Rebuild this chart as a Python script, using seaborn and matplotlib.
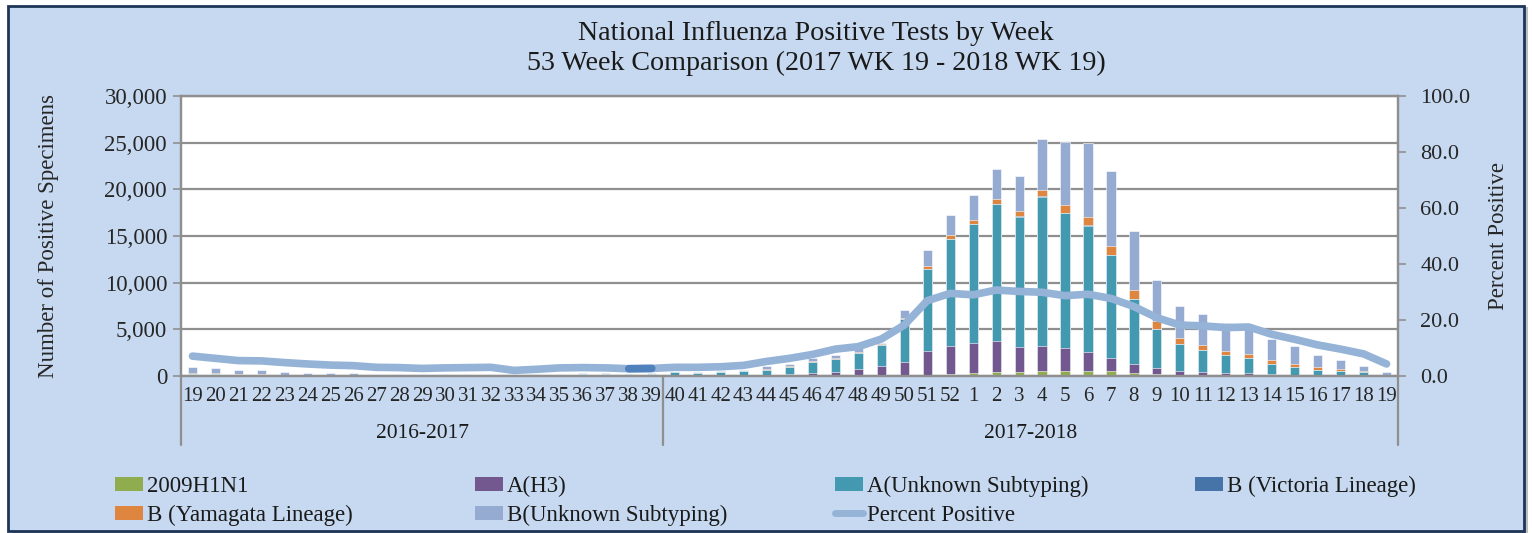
import numpy as np
import pandas as pd
import matplotlib
matplotlib.use("Agg")
import matplotlib.pyplot as plt
import matplotlib.transforms as mtransforms
from matplotlib.patches import Rectangle, Patch
from matplotlib.lines import Line2D
import seaborn as sns

# ---------------- data ----------------
weeks = [19, 20, 21, 22, 23, 24, 25, 26, 27, 28, 29, 30, 31, 32, 33, 34, 35, 36, 37, 38, 39,
         40, 41, 42, 43, 44, 45, 46, 47, 48, 49, 50, 51, 52,
         1, 2, 3, 4, 5, 6, 7, 8, 9, 10, 11, 12, 13, 14, 15, 16, 17, 18, 19]
seasons = ["2016-2017", "2017-2018"]
season_len = [21, 32]

h1n1 = [10, 10, 5, 5, 5, 5, 5, 5, 5, 5, 5, 5, 5, 5, 5, 5, 5, 5, 5, 5, 5,
        0, 0, 0, 5, 10, 10, 15, 20, 30, 50, 80, 150, 250,
        320, 430, 400, 540, 540, 540, 500, 320, 200, 100, 60, 40, 30, 20, 10, 10, 5, 5, 0]
h3 = [40, 30, 30, 20, 20, 15, 15, 10, 10, 10, 10, 10, 10, 10, 10, 10, 10, 15, 15, 15, 20,
      30, 30, 40, 60, 150, 250, 350, 440, 720, 1050, 1450, 2530, 3000,
      3250, 3280, 2710, 2710, 2430, 2000, 1460, 1000, 660, 440, 370, 280, 290, 190, 90, 60, 40, 30, 10]
a_unknown = [200, 150, 120, 100, 80, 60, 60, 50, 50, 50, 50, 50, 50, 50, 50, 60, 120, 180, 180, 150, 180,
             350, 300, 350, 420, 490, 750, 1180, 1400, 1710, 2220, 4540, 8780, 11430,
             12680, 14680, 13960, 15960, 14460, 13570, 11000, 6930, 4180, 2850, 2320, 1890, 1640,
             1110, 900, 610, 500, 400, 90]
b_victoria = [0, 0, 0, 0, 0, 0, 0, 0, 0, 0, 0, 0, 0, 0, 0, 0, 0, 0, 0, 0, 0,
              0, 0, 0, 0, 0, 0, 5, 5, 10, 10, 20, 20, 30,
              30, 30, 30, 40, 40, 40, 40, 30, 30, 20, 20, 20, 10, 10, 10, 10, 5, 5, 0]
b_yamagata = [100, 150, 100, 60, 40, 30, 20, 20, 10, 10, 10, 10, 10, 10, 10, 10, 10, 10, 10, 10, 10,
              20, 20, 20, 20, 50, 60, 70, 90, 140, 60, 160, 330, 390,
              460, 540, 530, 680, 820, 850, 900, 890, 780, 610, 500, 430, 430, 430, 320, 250, 160, 110, 20]
b_unknown = [650, 530, 430, 460, 300, 240, 200, 185, 125, 125, 115, 105, 105, 95, 75, 85, 80, 70, 70, 75, 65,
             80, 70, 90, 100, 380, 240, 260, 300, 370, 120, 840, 1710, 2110,
             2610, 3250, 3830, 5500, 6790, 7930, 8070, 6320, 4430, 3500, 3390, 3000, 2910,
             2250, 1860, 1320, 980, 560, 280]
percent_positive = [7.1, 6.3, 5.5, 5.4, 4.8, 4.3, 3.9, 3.7, 3.1, 3.0, 2.7, 2.9, 3.0, 3.1, 2.0, 2.4, 2.9,
                    3.0, 2.9, 2.6, 2.7,
                    3.1, 3.1, 3.3, 3.8, 5.2, 6.3, 7.7, 9.6, 10.5, 13.2, 18.2, 26.9, 29.5,
                    29.0, 30.7, 30.2, 29.9, 28.7, 29.2, 27.7, 24.8, 20.8, 18.2, 17.9, 17.3, 17.5,
                    14.9, 13.1, 11.1, 9.6, 7.9, 4.3]

series_names = ["2009H1N1", "A(H3)", "A(Unknown Subtyping)", "B (Victoria Lineage)",
                "B (Yamagata Lineage)", "B(Unknown Subtyping)"]
series_vals = [h1n1, h3, a_unknown, b_victoria, b_yamagata, b_unknown]
colors = ["#8fac4e", "#73588f", "#4299b0", "#4774a8", "#de8640", "#95abd2"]
line_color = "#95b3d7"

# ---------------- figure ----------------
sns.set_theme(style="white")
plt.rcParams["font.family"] = ["Liberation Serif", "DejaVu Serif"]
plt.rcParams["text.color"] = "#1a1a1a"

W, H = 1532, 533
fig = plt.figure(figsize=(W / 100, H / 100), dpi=100, facecolor="white")

# chart-area background with dark border + shadow
fig.patches.append(Rectangle((12 / W, 1 - 535 / H), 1516 / W, 528 / H, transform=fig.transFigure,
                             facecolor="#7f7f7f", edgecolor="none", alpha=0.5, zorder=-3))
fig.patches.append(Rectangle((8 / W, 1 - 531 / H), 1516 / W, 525 / H, transform=fig.transFigure,
                             facecolor="#c6d9f0", edgecolor="#1d3557", linewidth=2, zorder=-2))

ax = fig.add_axes([181 / W, 1 - 376 / H, (1398 - 181) / W, (376 - 96) / H])
ax.set_facecolor("white")

n = len(weeks)
idx = np.arange(n)
df = pd.DataFrame({"idx": idx})
cum = np.zeros(n)
cums = []
for vals in series_vals:
    cum = cum + np.array(vals, dtype=float)
    cums.append(cum.copy())

# draw cumulative totals from top series down so layers stack
for k in range(len(series_vals) - 1, -1, -1):
    df["val"] = cums[k]
    sns.barplot(data=df, x="idx", y="val", ax=ax, color=colors[k], width=0.4,
                saturation=1, linewidth=0.4, edgecolor="white", errorbar=None, zorder=3)

ax.set_xlim(-0.5, n - 0.5)
ax.set_ylim(0, 30000)
ax.set_yticks(np.arange(0, 30001, 5000))
ax.set_yticklabels([f"{v:,}" for v in range(0, 30001, 5000)], fontsize=16.5)
ax.yaxis.grid(True, color="#8f8f8f", linewidth=1.6, zorder=0)
ax.set_axisbelow(True)
ax.set_xticks(idx)
ax.set_xticklabels([str(w) for w in weeks], fontsize=15)
ax.tick_params(axis="x", length=0, pad=8)
ax.tick_params(axis="y", length=6, width=1.2, color="#8f8f8f", left=True, pad=4)
ax.set_xlabel("")
ax.set_ylabel("Number of Positive Specimens", fontsize=16.5, labelpad=33)
for s in ax.spines.values():
    s.set_color("#8f8f8f")
    s.set_linewidth(1.6)

# season group axis
trans = mtransforms.blended_transform_factory(ax.transData, ax.transAxes)
bounds = [-0.5]
for L in season_len:
    bounds.append(bounds[-1] + L)
for b in bounds:
    ax.add_line(Line2D([b, b], [0, -0.246], transform=trans, color="#8f8f8f",
                       linewidth=1.6, clip_on=False))
for i, name in enumerate(seasons):
    ax.text((bounds[i] + bounds[i + 1]) / 2, -0.205, name, transform=trans,
            ha="center", va="center", fontsize=15.5)

# percent positive line on secondary axis
ax2 = ax.twinx()
pdf = pd.DataFrame({"idx": idx, "pct": percent_positive})
sns.lineplot(data=pdf, x="idx", y="pct", ax=ax2, color=line_color, linewidth=5.5,
             solid_capstyle="round", zorder=5)
sns.lineplot(data=pdf.iloc[19:21], x="idx", y="pct", ax=ax2, color="#4f81bd",
             linewidth=5.5, zorder=6)
ax2.set_ylim(0, 100)
ax2.set_xlim(-0.5, n - 0.5)
ax2.set_yticks(np.arange(0, 101, 20))
ax2.set_yticklabels([f"{v:.1f}" for v in range(0, 101, 20)], fontsize=16)
ax2.tick_params(axis="y", length=6, width=1.2, color="#8f8f8f", right=True, pad=10)
ax2.set_ylabel("Percent Positive", fontsize=16.5, labelpad=13)
ax2.set_xlabel("")
for s in ax2.spines.values():
    s.set_color("#8f8f8f")
    s.set_linewidth(1.6)
ax2.grid(False)

# title
fig.text(816 / W, 1 - 33 / H, "National Influenza Positive Tests by Week", ha="center",
         va="center", fontsize=20.2)
fig.text(816 / W, 1 - 63 / H, "53 Week Comparison (2017 WK 19 - 2018 WK 19)", ha="center",
         va="center", fontsize=20.2)

# legend: four columns placed across the bottom
handles = [Patch(facecolor=c, edgecolor="none") for c in colors]
pct_handle = Line2D([0], [0], color=line_color, linewidth=5)
cols = [
    ([handles[0], handles[4]], [series_names[0], series_names[4]]),
    ([handles[1], handles[5]], [series_names[1], series_names[5]]),
    ([handles[2], pct_handle], [series_names[2], "Percent Positive"]),
    ([handles[3]], [series_names[3]]),
]
xs = [115, 475, 835, 1195]
for (hs, ls), x0 in zip(cols, xs):
    fig.legend(hs, ls, loc="upper left", bbox_to_anchor=(x0 / W, 1 - 476 / H),
               frameon=False, fontsize=16.5, handlelength=1.2, handleheight=0.55,
               handletextpad=0.2, labelspacing=0.33, borderaxespad=0, borderpad=0)

fig.savefig("out.png", dpi=100, facecolor="white")
